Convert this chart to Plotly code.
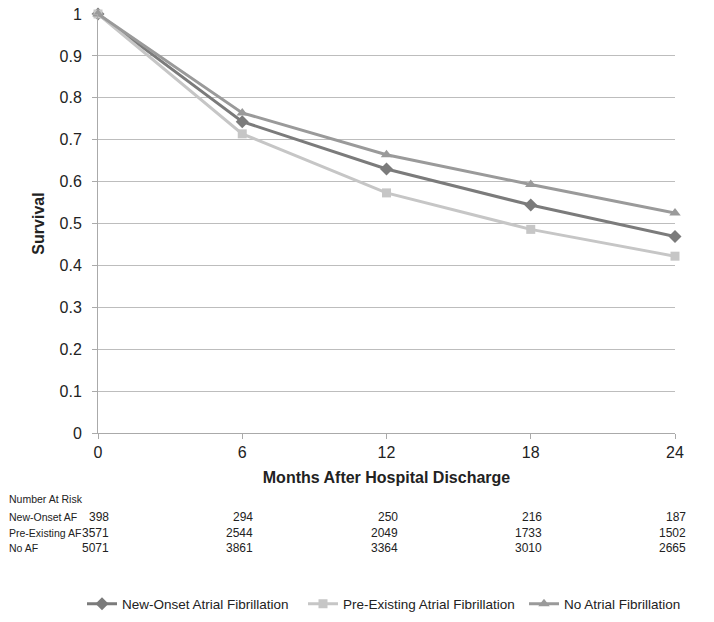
import plotly.graph_objects as go

months = [0, 6, 12, 18, 24]
new_onset = [1.0, 0.743, 0.630, 0.544, 0.469]
pre_existing = [1.0, 0.714, 0.573, 0.486, 0.422]
no_af = [1.0, 0.764, 0.664, 0.593, 0.525]

risk_rows = ["New-Onset AF", "Pre-Existing AF", "No AF"]
risk_new = [398, 294, 250, 216, 187]
risk_pre = [3571, 2544, 2049, 1733, 1502]
risk_no = [5071, 3861, 3364, 3010, 2665]

FONT = "Liberation Sans, Arial, sans-serif"

L, R, T, B = 98, 39, 14, 189
PW = 714 - L - R
PH = 622 - T - B

fig = go.Figure()
series = [
    ("New-Onset Atrial Fibrillation", new_onset, "#7b7b7b", "diamond", 10),
    ("Pre-Existing Atrial Fibrillation", pre_existing, "#c6c6c6", "square", 9),
    ("No Atrial Fibrillation", no_af, "#9a9a9a", "triangle-up", 10),
]
for name, ys, col, sym, sz in series:
    fig.add_trace(go.Scatter(
        x=months, y=ys, name=name, mode="lines+markers",
        line=dict(color=col, width=3),
        marker=dict(symbol=sym, size=sz, color=col),
        cliponaxis=False,
    ))

fig.update_layout(
    width=714, height=622,
    margin=dict(l=L, r=R, t=T, b=B, autoexpand=False),
    paper_bgcolor="white", plot_bgcolor="white",
    font=dict(family=FONT, color="#222", size=16),
    showlegend=True,
    legend=dict(orientation="h", x=(82 - L) / PW, xanchor="left",
                y=-(604 - (T + PH)) / PH, yanchor="middle",
                font=dict(size=13.5, color="#222"), itemwidth=30,
                entrywidth=176, entrywidthmode="pixels",
                traceorder="normal"),
)
fig.update_xaxes(
    range=[0, 24], tickvals=months, ticktext=[str(m) for m in months],
    showgrid=False, showline=True, linecolor="#aaaaaa", linewidth=1,
    ticks="outside", ticklen=5, tickcolor="#aaaaaa",
    tickfont=dict(size=16), zeroline=False, automargin=False,
    title=dict(text="<b>Months After Hospital Discharge</b>", font=dict(size=16), standoff=11),
)
fig.update_yaxes(
    range=[0, 1], tickvals=[i / 10 for i in range(11)],
    ticktext=["0", "0.1", "0.2", "0.3", "0.4", "0.5", "0.6", "0.7", "0.8", "0.9", "1"],
    showgrid=True, gridcolor="#bdbdbd", gridwidth=1,
    showline=True, linecolor="#aaaaaa", linewidth=1,
    ticks="outside", ticklen=5, tickcolor="#aaaaaa",
    tickfont=dict(size=16), zeroline=False, ticklabelstandoff=7, automargin=False,
    title=dict(text="<b>Survival</b>", font=dict(size=16), standoff=10),
)

# Number at risk table
lab_x = (7 - L) / PW
fig.add_annotation(text="Number At Risk", xref="paper", yref="paper",
                   x=lab_x, xanchor="left", y=0, yshift=-66,
                   yanchor="middle", showarrow=False,
                   font=dict(size=10.5, color="#222"))
row_data = [risk_new, risk_pre, risk_no]
for i, (lab, vals) in enumerate(zip(risk_rows, row_data)):
    ys = -84 - 15.7 * i
    fig.add_annotation(text=lab, xref="paper", yref="paper",
                       x=lab_x, xanchor="left", y=0, yshift=ys,
                       yanchor="middle", showarrow=False,
                       font=dict(size=10.5, color="#222"))
    for m, v in zip(months, vals):
        fig.add_annotation(text=str(v), xref="x", yref="paper",
                           x=m, xanchor="right", xshift=13, y=0, yshift=ys,
                           yanchor="middle", showarrow=False,
                           font=dict(size=12, color="#222"))

fig.write_html("out.html", config={"displayModeBar": False},
               post_script="document.body.style.margin='0px';")
